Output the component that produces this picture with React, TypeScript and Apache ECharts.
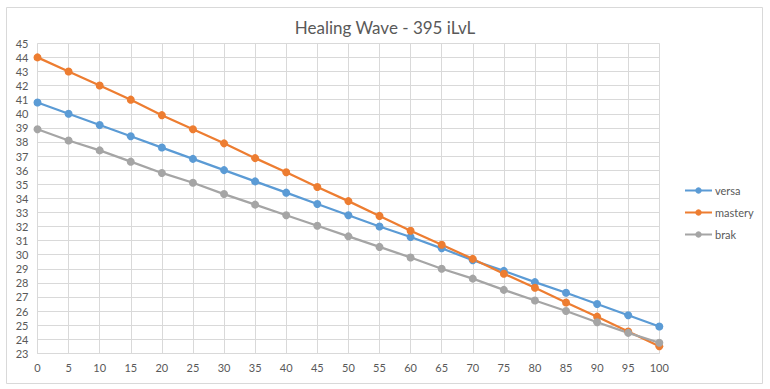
import React, { useEffect, useRef } from "react";
import * as echarts from "echarts";

const categories = ["0","5","10","15","20","25","30","35","40","45","50","55","60","65","70","75","80","85","90","95","100"];
const versa = [40.8, 40.0, 39.2, 38.4, 37.6, 36.8, 36.0, 35.2, 34.4, 33.6, 32.8, 32.0, 31.25, 30.45, 29.6, 28.85, 28.05, 27.3, 26.5, 25.7, 24.9];
const mastery = [44.0, 43.0, 42.0, 41.0, 39.9, 38.9, 37.9, 36.85, 35.85, 34.8, 33.8, 32.75, 31.7, 30.7, 29.7, 28.65, 27.65, 26.6, 25.6, 24.55, 23.5];
const brak = [38.9, 38.1, 37.4, 36.6, 35.8, 35.1, 34.3, 33.55, 32.8, 32.05, 31.3, 30.55, 29.8, 29.0, 28.3, 27.5, 26.75, 26.0, 25.2, 24.45, 23.75];
const seriesNames = ["versa", "mastery", "brak"];
const colors = ["#5B9BD5", "#ED7D31", "#A5A5A5"];
const title = "Healing Wave - 395 iLvL";

const FONT = "Lato, 'Open Sans', 'Liberation Sans', sans-serif";

export default function App() {
  const ref = useRef<HTMLDivElement>(null);
  useEffect(() => {
    if (!ref.current) return;
    const chart = echarts.init(ref.current, undefined, { renderer: "svg" });
    const data = [versa, mastery, brak];
    chart.setOption({
      animation: false,
      backgroundColor: "#ffffff",
      textStyle: { fontFamily: FONT },
      title: {
        text: title,
        left: "center",
        top: 14,
        textStyle: { fontSize: 17, fontWeight: "normal", color: "#595959", fontFamily: FONT },
      },
      graphic: [
        {
          type: "rect",
          shape: { x: 6.5, y: 7.5, width: 756, height: 376 },
          style: { fill: "none", stroke: "#d9d9d9", lineWidth: 1 },
          silent: true,
          z: -10,
        },
      ],
      legend: {
        orient: "vertical",
        left: 679,
        top: 180,
        itemWidth: 27,
        itemHeight: 8,
        itemGap: 11,
        textStyle: { fontSize: 11, color: "#595959", fontFamily: FONT, padding: [0, 0, 0, -2] },
        data: seriesNames,
      },
      grid: { left: 37.5, right: 110.7, top: 43.3, bottom: 35.7, containLabel: false },
      xAxis: {
        type: "category",
        data: categories,
        boundaryGap: false,
        axisLine: { lineStyle: { color: "#d9d9d9" } },
        axisTick: { show: false },
        axisLabel: { color: "#595959", fontSize: 11, margin: 9, fontFamily: FONT },
        splitLine: { show: true, lineStyle: { color: "#d9d9d9" } },
      },
      yAxis: {
        type: "value",
        min: 23,
        max: 45,
        interval: 1,
        axisLine: { show: false },
        axisTick: { show: false },
        axisLabel: { color: "#595959", fontSize: 11, margin: 9, fontFamily: FONT },
        splitLine: { lineStyle: { color: "#d9d9d9" } },
      },
      series: seriesNames.map((name, i) => ({
        name,
        type: "line",
        data: data[i],
        symbol: "circle",
        symbolSize: 8,
        lineStyle: { width: 2.25, color: colors[i] },
        itemStyle: { color: colors[i] },
      })),
    });
    return () => chart.dispose();
  }, []);
  return (
    <div
      ref={ref}
      style={{ position: "absolute", left: 0, top: 0, width: 770, height: 389 }}
    />
  );
}
